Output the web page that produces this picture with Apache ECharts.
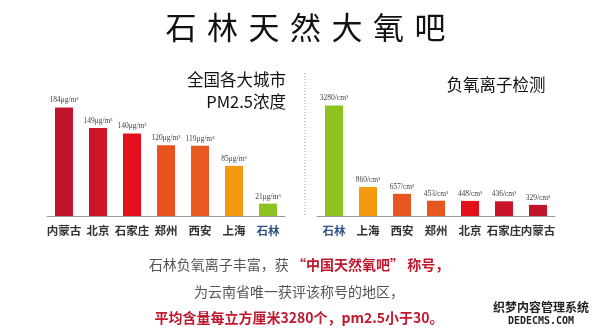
<!DOCTYPE html>
<html><head><meta charset="utf-8">
<script src="https://cdn.jsdelivr.net/npm/echarts@6/dist/echarts.min.js"></script>
<style>html,body{margin:0;padding:0;background:#fff}#c{width:600px;height:334px}</style>
</head><body><div id="c"></div>
<script>
// ---- data ----
const pmCities = ['内蒙古','北京','石家庄','郑州','西安','上海','石林'];
const pmValues = [184,149,140,120,119,85,21];
const pmUnit = 'μg/m³';
const ionCities = ['石林','上海','西安','郑州','北京','石家庄','内蒙古'];
const ionValues = [3280,860,657,453,448,436,329];
const ionUnit = '/cm³';
const mainTitle = '石林天然大氧吧';

// ---- styles ----
const pmColors = ['#c1152b','#cc1526','#e3101c','#e8521f','#e85a22','#f39a10','#8dc21f'];
const ionColors = ['#8dc21f','#f39a10','#e8561f','#e8561f','#e3101c','#c9152a','#c1152b'];
const CJK = '"Noto Sans CJK SC","Noto Sans",sans-serif';
const SERIF = '"Liberation Serif","DejaVu Serif",serif';

const chart = echarts.init(document.getElementById('c'));
function catLabel(){
  return {
    interval: 0, margin: 9, fontSize: 11.5, fontFamily: CJK, fontWeight: 'bold', color: '#333',
    formatter: v => v === '石林' ? '{b|' + v + '}' : v,
    rich: { b: { color: '#2f5385', fontSize: 11.5, fontFamily: CJK, fontWeight: 'bold' } }
  };
}
function bars(vals, colors, unit, xi){
  return {
    type: 'bar', xAxisIndex: xi, yAxisIndex: xi, barWidth: 18,
    data: vals.map((v,i) => ({ value: v, itemStyle: { color: colors[i] } })),
    label: { show: true, position: 'top', distance: 3, fontSize: 7.5, fontFamily: SERIF,
      color: '#444', formatter: p => p.value + unit },
    silent: true
  };
}
const titleChars = mainTitle.split('').map((ch, i) => ({
  type: 'text', x: 181 + i * 41.5, y: 27,
  style: { text: ch, fontSize: 31, fontFamily: CJK, fill: '#111',
    textAlign: 'center', textVerticalAlign: 'middle' }
}));
chart.setOption({
  animation: false,
  grid: [
    { left: 47, top: 98, width: 238, height: 118 },
    { left: 317, top: 98, width: 238, height: 118 }
  ],
  xAxis: [
    { gridIndex: 0, type: 'category', data: pmCities, axisTick: { show: false },
      axisLine: { lineStyle: { color: '#999', width: 1 } }, axisLabel: catLabel() },
    { gridIndex: 1, type: 'category', data: ionCities, axisTick: { show: false },
      axisLine: { lineStyle: { color: '#999', width: 1 } }, axisLabel: catLabel() }
  ],
  yAxis: [
    { gridIndex: 0, type: 'value', min: 0, max: 200, show: false },
    { gridIndex: 1, type: 'value', min: 0, max: 3500, show: false }
  ],
  series: [ bars(pmValues, pmColors, pmUnit, 0), bars(ionValues, ionColors, ionUnit, 1) ],
  graphic: titleChars.concat([
    { type: 'text', x: 286, y: 80, style: { text: '全国各大城市', fontSize: 16.5, fontFamily: CJK,
      fill: '#111', textAlign: 'right', textVerticalAlign: 'middle' } },
    { type: 'text', x: 286, y: 102, style: { text: 'PM2.5浓度', fontSize: 16.5, fontFamily: CJK,
      fill: '#111', textAlign: 'right', textVerticalAlign: 'middle' } },
    { type: 'text', x: 496, y: 85, style: { text: '负氧离子检测', fontSize: 16.5, fontFamily: CJK,
      fill: '#111', textAlign: 'center', textVerticalAlign: 'middle' } },
    { type: 'line', shape: { x1: 305, y1: 73, x2: 305, y2: 216 },
      style: { stroke: '#999', lineWidth: 1, lineDash: [1, 2] } },
    { type: 'text', x: 299, y: 265, style: {
      text: '{g|石林负氧离子丰富，获 }{r|“中国天然氧吧” 称号，}',
      textAlign: 'center', textVerticalAlign: 'middle',
      rich: { g: { fontSize: 14, fontFamily: CJK, fill: '#555', color: '#555' },
              r: { fontSize: 14, fontFamily: CJK, fontWeight: 'bold', fill: '#c0182e', color: '#c0182e' } } } },
    { type: 'text', x: 299, y: 292, style: { text: '为云南省唯一获评该称号的地区，', fontSize: 14,
      fontFamily: CJK, fill: '#555', textAlign: 'center', textVerticalAlign: 'middle' } },
    { type: 'text', x: 299, y: 318, style: { text: '平均含量每立方厘米3280个，pm2.5小于30。', fontSize: 14,
      fontFamily: CJK, fontWeight: 'bold', fill: '#c0182e', textAlign: 'center', textVerticalAlign: 'middle' } },
    { type: 'text', x: 541, y: 307, style: { text: '织梦内容管理系统', fontSize: 12, fontFamily: CJK,
      fontWeight: 'bold', fill: '#222', textAlign: 'center', textVerticalAlign: 'middle' } },
    { type: 'text', x: 541, y: 321, style: { text: 'DEDECMS.COM', fontSize: 10, fontFamily: '"DejaVu Sans Mono",monospace',
      fontWeight: 'bold', fill: '#222', textAlign: 'center', textVerticalAlign: 'middle' } }
  ])
});
</script></body></html>
